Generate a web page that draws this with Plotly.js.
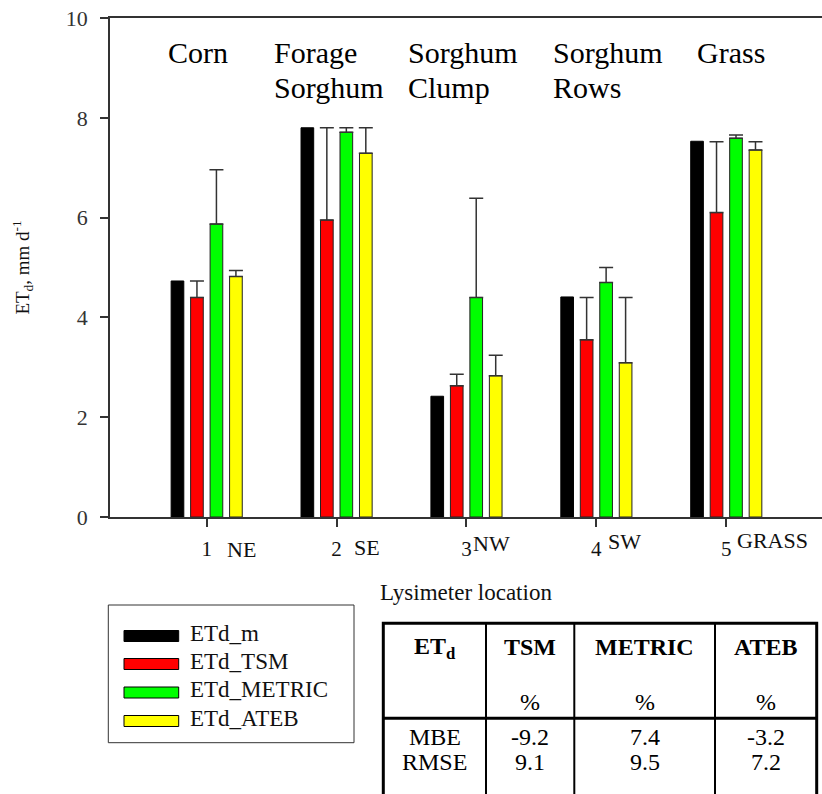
<!DOCTYPE html>
<html>
<head>
<meta charset="utf-8">
<script src="https://cdn.plot.ly/plotly-3.0.1.min.js"></script>
</head>
<body style="margin:0">
<div id="chart"></div>
<script>
// ---- data ----
const categories = [1, 2, 3, 4, 5];
const tickLabels = ['1', '2', '3', '4', '5'];
const locationLabels = ['NE', 'SE', 'NW', 'SW', 'GRASS'];
const cropLine1 = ['Corn', 'Forage', 'Sorghum', 'Sorghum', 'Grass'];
const cropLine2 = ['', 'Sorghum', 'Clump', 'Rows', ''];
const seriesNames = ['ETd_m', 'ETd_TSM', 'ETd_METRIC', 'ETd_ATEB'];
const etdM = [4.73, 7.80, 2.42, 4.41, 7.53];
const etdTSM = [4.40, 5.95, 2.63, 3.55, 6.10];
const etdTSMErr = [0.33, 1.85, 0.23, 0.85, 1.42];
const etdMETRIC = [5.87, 7.71, 4.40, 4.70, 7.59];
const etdMETRICErr = [1.09, 0.09, 1.99, 0.30, 0.065];
const etdATEB = [4.82, 7.29, 2.83, 3.09, 7.355];
const etdATEBErr = [0.12, 0.51, 0.41, 1.31, 0.165];
const yTicks = [0, 2, 4, 6, 8, 10];
const tableHeader = 'ET<sub>d</sub>';
const tableColumns = ['TSM', 'METRIC', 'ATEB'];
const tableUnits = ['%', '%', '%'];
const tableRowNames = ['MBE', 'RMSE'];
const mbe = ['-9.2', '7.4', '-3.2'];
const rmse = ['9.1', '9.5', '7.2'];

// ---- styling / layout helpers ----
const colors = ['#000000', '#ff0000', '#00ff00', '#ffff00'];
const W = 822, H = 794, L = 110, R = 822, T = 18, B = 517;
const px2x = p => (p - L) / (R - L);
const py2y = p => (B - p) / (B - T);
const serif = '"Liberation Serif", "Times New Roman", Times, serif';
const axisColor = '#333333';
const annPad = 2; // annotation border padding in px

const values = [etdM, etdTSM, etdMETRIC, etdATEB];
const errs = [null, etdTSMErr, etdMETRICErr, etdATEBErr];

const traces = values.map((v, i) => {
  const t = {
    type: 'bar',
    name: seriesNames[i],
    x: categories,
    y: v,
    marker: {color: colors[i], line: {color: i === 0 ? '#000' : '#222', width: 1}},
    showlegend: false,
    hoverinfo: 'x+y+name'
  };
  if (errs[i]) {
    t.error_y = {type: 'data', symmetric: false, array: errs[i],
      arrayminus: errs[i].map(() => 0), color: '#333', thickness: 1.5, width: 7};
  }
  return t;
});

const annotations = [];
const shapes = [];

// crop labels above bars
const cropLeft = [168.3, 273.5, 408, 553, 696.7];
categories.forEach((c, i) => {
  annotations.push({xref: 'paper', yref: 'paper', x: px2x(cropLeft[i] - annPad), y: py2y(52.5),
    xanchor: 'left', yanchor: 'middle', showarrow: false, text: cropLine1[i],
    font: {family: serif, size: 30, color: '#000'}});
  if (cropLine2[i]) {
    annotations.push({xref: 'paper', yref: 'paper', x: px2x(cropLeft[i] - annPad), y: py2y(87.5),
      xanchor: 'left', yanchor: 'middle', showarrow: false, text: cropLine2[i],
      font: {family: serif, size: 30, color: '#000'}});
  }
});

// location labels next to tick numbers
const locOffset = [20.3, 17, 6.8, 12, 11.2];
const locY = [549.5, 547, 543, 541, 540.5];
categories.forEach((c, i) => {
  annotations.push({xref: 'x', yref: 'paper', x: c + (locOffset[i] - annPad) / 129.9, y: py2y(locY[i]),
    xanchor: 'left', yanchor: 'middle', showarrow: false, text: locationLabels[i],
    font: {family: serif, size: 22, color: '#111'}});
});

// custom legend
shapes.push({type: 'rect', xref: 'paper', yref: 'paper', x0: px2x(108.3), x1: px2x(354),
  y0: py2y(605), y1: py2y(742.7), line: {color: '#333', width: 1}, fillcolor: 'rgba(0,0,0,0)'});
const legRowY = [636, 664, 692.5, 721];
seriesNames.forEach((n, i) => {
  shapes.push({type: 'rect', xref: 'paper', yref: 'paper', x0: px2x(124), x1: px2x(178.7),
    y0: py2y(legRowY[i] - 5.5), y1: py2y(legRowY[i] + 5.5),
    line: {color: '#000', width: 1}, fillcolor: colors[i]});
  annotations.push({xref: 'paper', yref: 'paper', x: px2x(190 - annPad), y: py2y(legRowY[i] - 3),
    xanchor: 'left', yanchor: 'middle', showarrow: false, text: n,
    font: {family: serif, size: 23, color: '#111'}});
});

// statistics table
const tL = 383.3, tR = 816.7, tT = 623.3, tHead = 718.3;
const colEdges = [tL, 486, 574.3, 715, tR];
shapes.push({type: 'rect', xref: 'paper', yref: 'paper', x0: px2x(tL), x1: px2x(tR),
  y0: py2y(tT), y1: py2y(830), line: {color: '#000', width: 3}, fillcolor: 'rgba(0,0,0,0)'});
colEdges.slice(1, 4).forEach(e => {
  shapes.push({type: 'line', xref: 'paper', yref: 'paper', x0: px2x(e), x1: px2x(e),
    y0: py2y(tT), y1: py2y(830), line: {color: '#000', width: 2}});
});
shapes.push({type: 'line', xref: 'paper', yref: 'paper', x0: px2x(tL), x1: px2x(tR),
  y0: py2y(tHead), y1: py2y(tHead), line: {color: '#000', width: 3}});
const colCenter = i => (colEdges[i] + colEdges[i + 1]) / 2;
const tf = {family: serif, size: 24, color: '#000'};
const cell = (txt, cx, cy) => annotations.push({xref: 'paper', yref: 'paper', x: px2x(cx), y: py2y(cy),
  xanchor: 'center', yanchor: 'middle', showarrow: false, text: txt, font: tf});
cell('<b>' + tableHeader + '</b>', colCenter(0), 648);
tableColumns.forEach((c, i) => {
  cell('<b>' + c + '</b>', colCenter(i + 1), 647);
  cell(tableUnits[i], colCenter(i + 1), 702);
  cell(mbe[i], colCenter(i + 1), 737);
  cell(rmse[i], colCenter(i + 1), 762);
});
cell(tableRowNames[0], colCenter(0), 737);
cell(tableRowNames[1], colCenter(0), 762);

const layout = {
  width: W, height: H,
  margin: {l: L, r: W - R, t: T, b: H - B, pad: 0},
  paper_bgcolor: '#fff', plot_bgcolor: '#fff',
  barmode: 'group', bargap: 0.4, bargroupgap: 0.35,
  showlegend: false,
  font: {family: serif},
  xaxis: {
    range: [0.2556, 5.737], tickmode: 'array', tickvals: categories, ticktext: tickLabels,
    showline: true, mirror: true, linecolor: axisColor, linewidth: 1.5,
    ticks: 'outside', ticklen: 8, tickwidth: 1.5, tickcolor: axisColor,
    showgrid: false, zeroline: false,
    tickfont: {family: serif, size: 21, color: '#111'},
    ticklabelstandoff: 4,
    title: {text: 'Lysimeter location', font: {family: serif, size: 23, color: '#111'}, standoff: 24},
    automargin: false, fixedrange: true
  },
  yaxis: {
    range: [0, 10], tickmode: 'array', tickvals: yTicks,
    showline: true, linecolor: axisColor, linewidth: 1.5,
    ticks: 'outside', ticklen: 8, tickwidth: 1.5, tickcolor: axisColor,
    showgrid: false, zeroline: false,
    tickfont: {family: serif, size: 22, color: '#333'},
    ticklabelstandoff: 8,
    title: {text: 'ET<sub>d</sub>, mm d<sup>-1</sup>', font: {family: serif, size: 19, color: '#111'}, standoff: 31},
    automargin: false, fixedrange: true
  },
  annotations: annotations,
  shapes: shapes
};

Plotly.newPlot('chart', traces, layout, {displayModeBar: false});
</script>
</body>
</html>
